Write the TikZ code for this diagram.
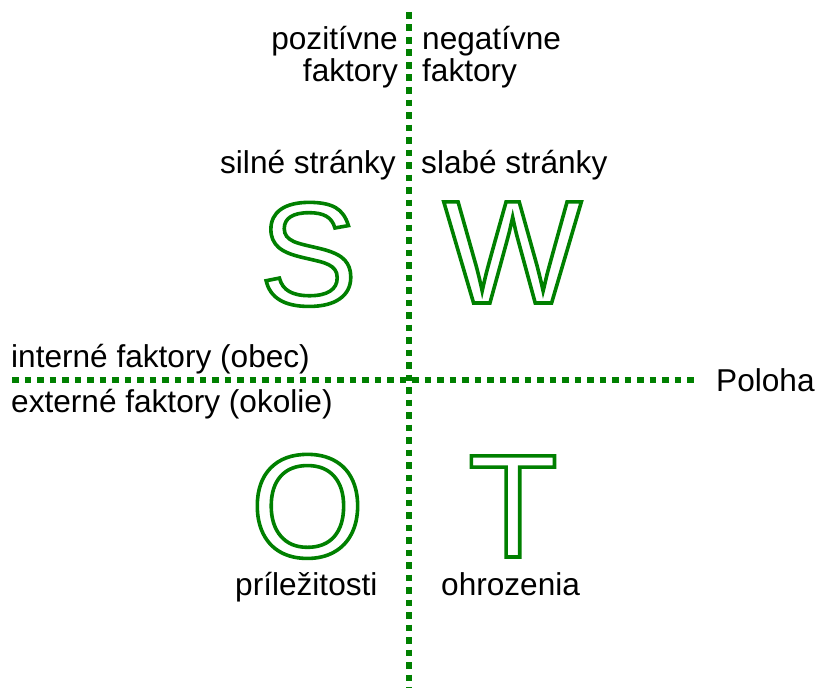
\documentclass[tikz,border=0pt]{standalone}
\usepackage{fontspec}
\setmainfont{Liberation Sans}
\definecolor{swotgreen}{RGB}{0,128,0}
\newcommand{\outlinetext}[1]{\special{pdf:literal direct 1 Tr 3.6 w}#1\special{pdf:literal direct 0 Tr}}
\begin{document}
\begin{tikzpicture}[x=1bp,y=-1bp,
  lbl/.style={inner sep=0pt, text=black, font=\fontsize{31.6bp}{36bp}\selectfont},
  big/.style={inner sep=0pt, text=swotgreen, font=\fontsize{147bp}{160bp}\selectfont},
  dotline/.style={draw=swotgreen, line width=6.5bp, dash pattern=on 6.8bp off 5.7bp}]
\useasboundingbox (0,0) rectangle (818,690);
\coordinate (vt) at (409,12);
\coordinate (vb) at (409,688);
\coordinate (hl) at (12,380);
\coordinate (hr) at (695,380);
\draw[dotline] (vt) -- (vb);
\draw[dotline] (hl) -- (hr);

\node[lbl, anchor=base east] (pos1) at (398,50) {pozitívne};
\node[lbl, anchor=base east] (pos2) at (398,82) {faktory};
\node[lbl, anchor=base west] (neg1) at (422,50) {negatívne};
\node[lbl, anchor=base west] (neg2) at (422,82) {faktory};
\node[lbl, anchor=base east] (silne) at (396,173) {silné stránky};
\node[lbl, anchor=base west] (slabe) at (421,173) {slabé stránky};
\node[lbl, anchor=base west] (int) at (11,367) {interné faktory (obec)};
\node[lbl, anchor=base west] (ext) at (11,412) {externé faktory (okolie)};
\node[lbl, anchor=base west] (pol) at (716,391) {Poloha};
\node[lbl, anchor=base west] (pril) at (235,595) {príležitosti};
\node[lbl, anchor=base west] (ohr) at (441,595) {ohrozenia};

\node[big, anchor=base] (S) at (308.5,305) {\outlinetext{S}};
\node[big, anchor=base] (W) at (512.5,303) {\outlinetext{W}};
\node[big, anchor=base] (O) at (307.5,557) {\outlinetext{O}};
\node[big, anchor=base] (T) at (513,557) {\outlinetext{T}};
\end{tikzpicture}
\end{document}
